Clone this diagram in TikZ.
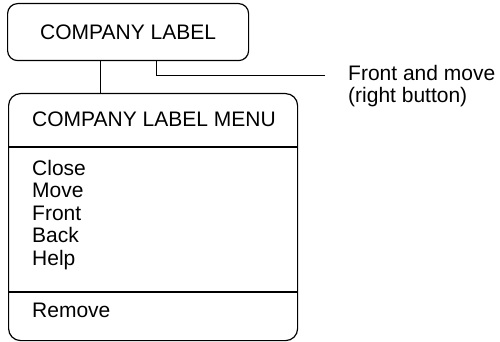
\documentclass[tikz,border=0pt]{standalone}
\usepackage{fontspec}
\setmainfont{Liberation Sans}
\usepackage{tikz}
\usetikzlibrary{positioning,calc}
\newcommand{\menufont}{\fontsize{21}{22.5}\selectfont}
\tikzset{
  box/.style={draw,line width=1.2pt,rounded corners=10pt,inner sep=0pt},
  entry/.style={anchor=base west,inner sep=0pt,font=\menufont},
  sep/.style={draw,line width=1.1pt},
  link/.style={draw,line width=1pt}
}

\begin{document}
\begin{tikzpicture}[x=1pt,y=-1pt]
  \useasboundingbox (0,0) rectangle (500,342);
  % label window and its menu
  \node[box,minimum width=241pt,minimum height=57pt,anchor=north west,font=\menufont] (company) at (7,3) {COMPANY LABEL};
  \node[box,rounded corners=12pt,minimum width=289pt,minimum height=247pt,anchor=north west] (menu) at (8,93) {};
  \node[entry] (head) at (32,127) {COMPANY LABEL MENU};
  \coordinate (cut1) at (0,147);
  \coordinate (cut2) at (0,292);
  \draw[sep] (menu.west |- cut1) -- (menu.east |- cut1);
  \draw[sep] (menu.west |- cut2) -- (menu.east |- cut2);
  \node[entry] (close) at (32,175) {Close};
  \node[entry] (move) at (32,197.5) {Move};
  \node[entry] (front) at (32,220) {Front};
  \node[entry] (back) at (32,242.5) {Back};
  \node[entry] (help) at (32,265) {Help};
  \node[entry] (remove) at (32,317) {Remove};
  % connectors
  \coordinate (stem) at (100,0);
  \coordinate (branch) at (156,0);
  \coordinate (tip) at (325,76);
  \draw[link] (company.south -| stem) -- (menu.north -| stem);
  \draw[link] (company.south -| branch) |- (tip);
  \node[anchor=north west,inner sep=0pt,align=left,font=\menufont] (note) at (348,65) {Front and move\\(right button)};
\end{tikzpicture}
\end{document}
